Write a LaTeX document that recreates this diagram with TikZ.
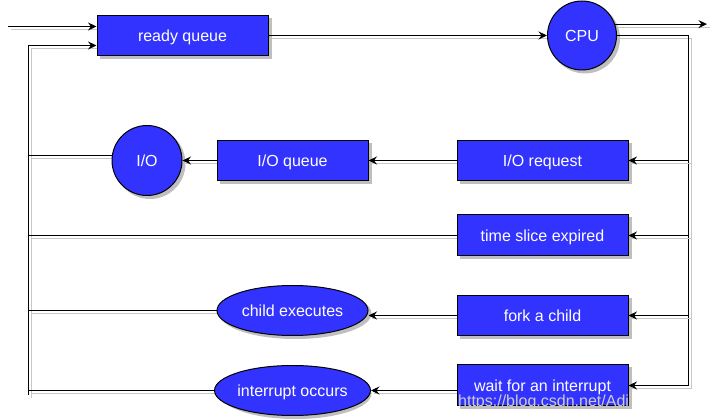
\documentclass[tikz,border=0pt]{standalone}
\usepackage{fontspec}
\setmainfont{Liberation Sans}
\usetikzlibrary{arrows.meta,shapes.geometric}
\definecolor{qblue}{HTML}{3333FF}
\pgfdeclarelayer{shad}
\pgfdeclarelayer{bg}
\pgfsetlayers{shad,bg,main}
\begin{document}
\begin{tikzpicture}[x=1pt,y=-1pt,
  font=\fontsize{16}{19}\selectfont,
  shp/.style={draw=black, line width=1pt, fill=qblue, text=white,
    text height=12pt, text depth=0pt},
  boxn/.style={shp, rectangle, minimum width=171pt, minimum height=40pt, inner sep=0pt},
  circn/.style={shp, circle, minimum size=69pt, inner sep=0pt},
  elln/.style={shp, ellipse, minimum width=151pt, minimum height=50pt, inner sep=0pt},
  shadowfill/.style={fill=black!25},
  conn/.style={line width=1pt, draw=black,
    preaction={draw=black!22, line width=1pt, arrows=-, transform canvas={shift={(3pt,-3pt)}}}},
  arr/.style={conn, -{Stealth[length=8.5pt,width=8pt,inset=3pt]}}
]
\useasboundingbox (0,0) rectangle (718,419);

\node[boxn] (rq) at (182.5,35.5) {ready queue};
\node[circn] (cpu) at (582,35.5) {CPU};
\node[boxn] (ioreq) at (542.5,160.5) {I/O request};
\node[boxn, minimum height=41pt] (ts) at (542.5,235.5) {time slice expired};
\node[boxn] (fork) at (542.5,315.5) {fork a child};
\node[boxn, minimum height=41pt] (wait) at (542.5,385.5) {wait for an interrupt};
\node[boxn, minimum width=151pt] (ioq) at (292.5,160.5) {I/O queue};
\node[circn, minimum size=70pt] (io) at (147,160.5) {I/O};
\node[elln] (child) at (292.5,310.5) {child executes};
\node[elln] (intr) at (292.5,390.5) {interrupt occurs};

\coordinate (in) at (8,26.5);
\coordinate (out) at (707,24.5);
\coordinate (rt) at (688.5,35.5);
\coordinate (rb) at (688.5,385.5);
\coordinate (lb) at (28.5,395);

\begin{pgfonlayer}{shad}
\foreach \n in {rq,ioreq,ts,fork,wait,ioq}
  \fill[shadowfill] ([shift={(3pt,-3pt)}]\n.south west) rectangle ([shift={(3pt,-3pt)}]\n.north east);
\fill[shadowfill] ([shift={(3pt,-3pt)}]cpu.center) circle[radius=35pt];
\fill[shadowfill] ([shift={(3pt,-3pt)}]io.center) circle[radius=35.5pt];
\fill[shadowfill] ([shift={(3pt,-3pt)}]child.center) ellipse[x radius=76pt, y radius=25.5pt];
\fill[shadowfill] ([shift={(3pt,-3pt)}]intr.center) ellipse[x radius=76pt, y radius=25.5pt];
\end{pgfonlayer}

\begin{pgfonlayer}{bg}
\draw[arr] (in) -- (in -| rq.west);
\draw[arr] (lb) |- ([yshift=-10pt]rq.west);
\draw[arr] (rq.east) -- (cpu.west);
\draw[arr] (cpu.19) -- (cpu.19 -| out);
\draw[conn] (cpu.east) -- (rt) -- (rb);
\draw[arr] (rt |- ioreq.east) -- (ioreq.east);
\draw[arr] (rt |- ts.east) -- (ts.east);
\draw[arr] (rt |- fork.east) -- (fork.east);
\draw[arr] (rb) -- (rb -| wait.east);
\draw[arr] (ioreq.west) -- (ioq.east);
\draw[arr] (ioq.west) -- (io.east);
\draw[conn] (io.172) -- (io.172 -| lb);
\draw[conn] (ts.west) -- (ts.west -| lb);
\draw[arr] (fork.west) -- (fork.west -| child.east);
\draw[conn] (child.west) -- (child.west -| lb);
\draw[arr] (wait.west |- intr.east) -- (intr.east);
\draw[conn] (intr.west) -- (intr.west -| lb);
\end{pgfonlayer}

\node[text=black!20, anchor=base west, inner sep=0pt] (wm) at (458,407) {https://blog.csdn.net/Adi};
\end{tikzpicture}
\end{document}
